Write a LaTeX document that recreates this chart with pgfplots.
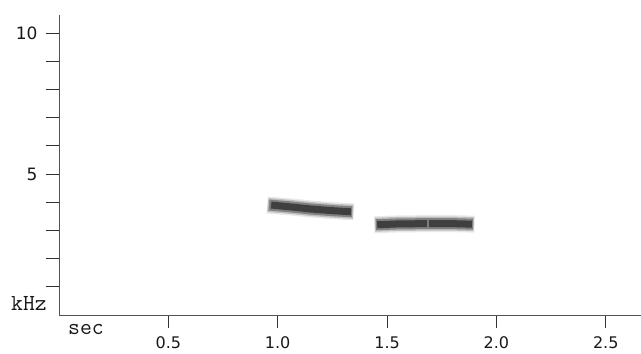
\documentclass[border=0pt]{standalone}
\usepackage{fontspec}
\setmainfont{DejaVu Sans}
\newfontfamily\couriermono{Latin Modern Mono}
\usepackage{pgfplots}
\pgfplotsset{compat=1.18}
\definecolor{axc}{HTML}{5A4A5A}
\definecolor{blob}{HTML}{252525}
\begin{document}
\begin{tikzpicture}
\begin{axis}[
  x=218.7pt, y=28.2pt,
  anchor=origin, at={(0,0)},
  xmin=0, xmax=2.66, ymin=0, ymax=10.64,
  axis x line=bottom, axis y line=left,
  axis line style={-, axc, line width=0.8pt},
  xtick={0.5,1,1.5,2,2.5},
  xticklabels={0.5,1.0,1.5,2.0,2.5},
  ytick={1,2,3,4,5,6,7,8,9,10},
  yticklabels={,,,,5,,,,,10},
  tick align=outside, major tick length=13pt,
  tick style={black!80, line width=0.8pt},
  xticklabel style={font=\fontsize{16}{16}\selectfont, text=black!90, yshift=-5pt},
  yticklabel style={font=\fontsize{17}{17}\selectfont, text=black!90, xshift=-5pt},
  /pgf/number format/assume math mode=true,
  clip=false,
]
% blob 1
\addplot[blob!10, line width=17pt] coordinates {(0.952,3.90) (1.05,3.84) (1.15,3.76) (1.25,3.70) (1.348,3.66)};
\addplot[blob!30, line width=14pt] coordinates {(0.955,3.90) (1.05,3.84) (1.15,3.76) (1.25,3.70) (1.345,3.66)};
\addplot[blob!58, line width=11pt] coordinates {(0.96,3.90) (1.05,3.84) (1.15,3.76) (1.25,3.70) (1.34,3.66)};
\addplot[blob!88, line width=7pt] coordinates {(0.97,3.90) (1.05,3.84) (1.15,3.76) (1.25,3.70) (1.335,3.66)};
% blob 2
\addplot[blob!10, line width=17pt] coordinates {(1.441,3.20) (1.55,3.23) (1.69,3.24) (1.80,3.24) (1.90,3.22)};
\addplot[blob!30, line width=14pt] coordinates {(1.445,3.20) (1.55,3.23) (1.69,3.24) (1.80,3.24) (1.897,3.22)};
\addplot[blob!58, line width=11pt] coordinates {(1.449,3.20) (1.55,3.23) (1.69,3.24) (1.80,3.24) (1.893,3.22)};
\addplot[blob!88, line width=7pt] coordinates {(1.455,3.20) (1.55,3.23) (1.683,3.24)};
\addplot[blob!88, line width=7pt] coordinates {(1.692,3.24) (1.80,3.24) (1.888,3.22)};
\end{axis}
\node[font=\couriermono\bfseries\fontsize{23}{23}\selectfont, text=black!90] at (-30pt,12pt) {kHz};
\node[font=\couriermono\bfseries\fontsize{23}{23}\selectfont, text=black!90] at (27pt,-15pt) {sec};
\pgfresetboundingbox
\useasboundingbox (-59pt,-39pt) rectangle (582pt,315pt);
\end{tikzpicture}
\end{document}
